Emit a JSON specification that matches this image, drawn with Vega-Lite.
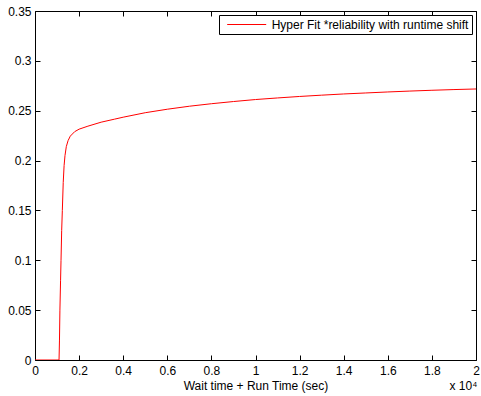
{
  "$schema": "https://vega.github.io/schema/vega-lite/v6.json",
  "width": 441,
  "height": 349,
  "autosize": "none",
  "padding": {"left": 35, "top": 11, "right": 5, "bottom": 36},
  "background": "white",
  "config": {
    "font": "Liberation Sans",
    "view": {"stroke": "black", "strokeWidth": 1},
    "axis": {
      "grid": false,
      "domain": false,
      "tickSize": -5,
      "tickColor": "black",
      "labelFlush": false,
      "labelFont": "Liberation Sans",
      "labelFontSize": 12,
      "labelColor": "black",
      "titleFont": "Liberation Sans",
      "titleFontSize": 12,
      "titleFontWeight": "normal",
      "titleColor": "black"
    }
  },
  "title": {
    "text": "x 10⁴",
    "orient": "bottom",
    "anchor": "end",
    "fontSize": 12,
    "fontWeight": "normal",
    "font": "Liberation Sans",
    "color": "black",
    "offset": -10,
    "dx": -2
  },
  "data": {
    "values": [
      {"t": 0, "v": 0, "s": "Hyper Fit *reliability with runtime shift"},
      {"t": 1090, "v": 0, "s": "Hyper Fit *reliability with runtime shift"},
      {"t": 1110, "v": 0.02, "s": "Hyper Fit *reliability with runtime shift"},
      {"t": 1130, "v": 0.05, "s": "Hyper Fit *reliability with runtime shift"},
      {"t": 1160, "v": 0.08, "s": "Hyper Fit *reliability with runtime shift"},
      {"t": 1180, "v": 0.1, "s": "Hyper Fit *reliability with runtime shift"},
      {"t": 1210, "v": 0.13, "s": "Hyper Fit *reliability with runtime shift"},
      {"t": 1240, "v": 0.15, "s": "Hyper Fit *reliability with runtime shift"},
      {"t": 1280, "v": 0.178, "s": "Hyper Fit *reliability with runtime shift"},
      {"t": 1320, "v": 0.195, "s": "Hyper Fit *reliability with runtime shift"},
      {"t": 1360, "v": 0.205, "s": "Hyper Fit *reliability with runtime shift"},
      {"t": 1420, "v": 0.214, "s": "Hyper Fit *reliability with runtime shift"},
      {"t": 1500, "v": 0.22, "s": "Hyper Fit *reliability with runtime shift"},
      {"t": 1600, "v": 0.2245, "s": "Hyper Fit *reliability with runtime shift"},
      {"t": 1800, "v": 0.229, "s": "Hyper Fit *reliability with runtime shift"},
      {"t": 2000, "v": 0.2315, "s": "Hyper Fit *reliability with runtime shift"},
      {"t": 2400, "v": 0.2345, "s": "Hyper Fit *reliability with runtime shift"},
      {"t": 3000, "v": 0.2385, "s": "Hyper Fit *reliability with runtime shift"},
      {"t": 3600, "v": 0.2415, "s": "Hyper Fit *reliability with runtime shift"},
      {"t": 4000, "v": 0.2435, "s": "Hyper Fit *reliability with runtime shift"},
      {"t": 5000, "v": 0.248, "s": "Hyper Fit *reliability with runtime shift"},
      {"t": 6000, "v": 0.2515, "s": "Hyper Fit *reliability with runtime shift"},
      {"t": 7000, "v": 0.2545, "s": "Hyper Fit *reliability with runtime shift"},
      {"t": 8000, "v": 0.257, "s": "Hyper Fit *reliability with runtime shift"},
      {"t": 9000, "v": 0.2592, "s": "Hyper Fit *reliability with runtime shift"},
      {"t": 10000, "v": 0.2612, "s": "Hyper Fit *reliability with runtime shift"},
      {"t": 11000, "v": 0.2628, "s": "Hyper Fit *reliability with runtime shift"},
      {"t": 12000, "v": 0.2643, "s": "Hyper Fit *reliability with runtime shift"},
      {"t": 13000, "v": 0.2656, "s": "Hyper Fit *reliability with runtime shift"},
      {"t": 14000, "v": 0.2668, "s": "Hyper Fit *reliability with runtime shift"},
      {"t": 15000, "v": 0.2678, "s": "Hyper Fit *reliability with runtime shift"},
      {"t": 16000, "v": 0.2688, "s": "Hyper Fit *reliability with runtime shift"},
      {"t": 17000, "v": 0.2697, "s": "Hyper Fit *reliability with runtime shift"},
      {"t": 18000, "v": 0.2705, "s": "Hyper Fit *reliability with runtime shift"},
      {"t": 19000, "v": 0.2712, "s": "Hyper Fit *reliability with runtime shift"},
      {"t": 20000, "v": 0.2718, "s": "Hyper Fit *reliability with runtime shift"}
    ]
  },
  "layer": [
    {
      "mark": {"type": "line", "strokeWidth": 1, "clip": true},
      "encoding": {
        "x": {
          "field": "t", "type": "quantitative",
          "scale": {"domain": [0, 20000], "nice": false, "zero": false},
          "axis": {
            "orient": "bottom",
            "title": "Wait time + Run Time (sec)",
            "values": [0, 2000, 4000, 6000, 8000, 10000, 12000, 14000, 16000, 18000, 20000],
            "labelExpr": "datum.value == 0 ? '0' : datum.value == 10000 ? '1' : datum.value == 20000 ? '2' : format(datum.value / 10000, '.1f')",
            "labelPadding": 10,
            "titlePadding": 4
          }
        },
        "y": {
          "field": "v", "type": "quantitative",
          "scale": {"domain": [0, 0.35], "nice": false},
          "axis": {
            "orient": "left",
            "title": null,
            "values": [0, 0.05, 0.1, 0.15, 0.2, 0.25, 0.3, 0.35],
            "labelExpr": "datum.value == 0 ? '0' : format(datum.value, '.3~f')",
            "labelPadding": 9
          }
        },
        "color": {
          "field": "s", "type": "nominal",
          "scale": {"range": ["#ff0000"]},
          "legend": {
            "title": null,
            "orient": "top-right",
            "offset": 4,
            "strokeColor": "black",
            "fillColor": "white",
            "padding": 3,
            "symbolType": "M-3.25,0H3.25",
            "symbolSize": 144,
            "symbolOffset": 18.2,
            "symbolStrokeWidth": 1,
            "symbolStrokeColor": "#ff0000",
            "symbolFillColor": "transparent",
            "labelOffset": 18.5,
            "labelFont": "Liberation Sans",
            "labelFontSize": 12,
            "labelColor": "black",
            "labelLimit": 400
          }
        }
      }
    },
    {
      "mark": {"type": "line", "opacity": 0},
      "encoding": {
        "x": {
          "field": "t", "type": "quantitative",
          "axis": {
            "orient": "top",
            "title": null,
            "labels": false,
            "values": [0, 2000, 4000, 6000, 8000, 10000, 12000, 14000, 16000, 18000, 20000]
          }
        },
        "y": {
          "field": "v", "type": "quantitative",
          "axis": {
            "orient": "right",
            "title": null,
            "labels": false,
            "values": [0, 0.05, 0.1, 0.15, 0.2, 0.25, 0.3, 0.35]
          }
        }
      }
    }
  ],
  "resolve": {"axis": {"x": "independent", "y": "independent"}}
}
